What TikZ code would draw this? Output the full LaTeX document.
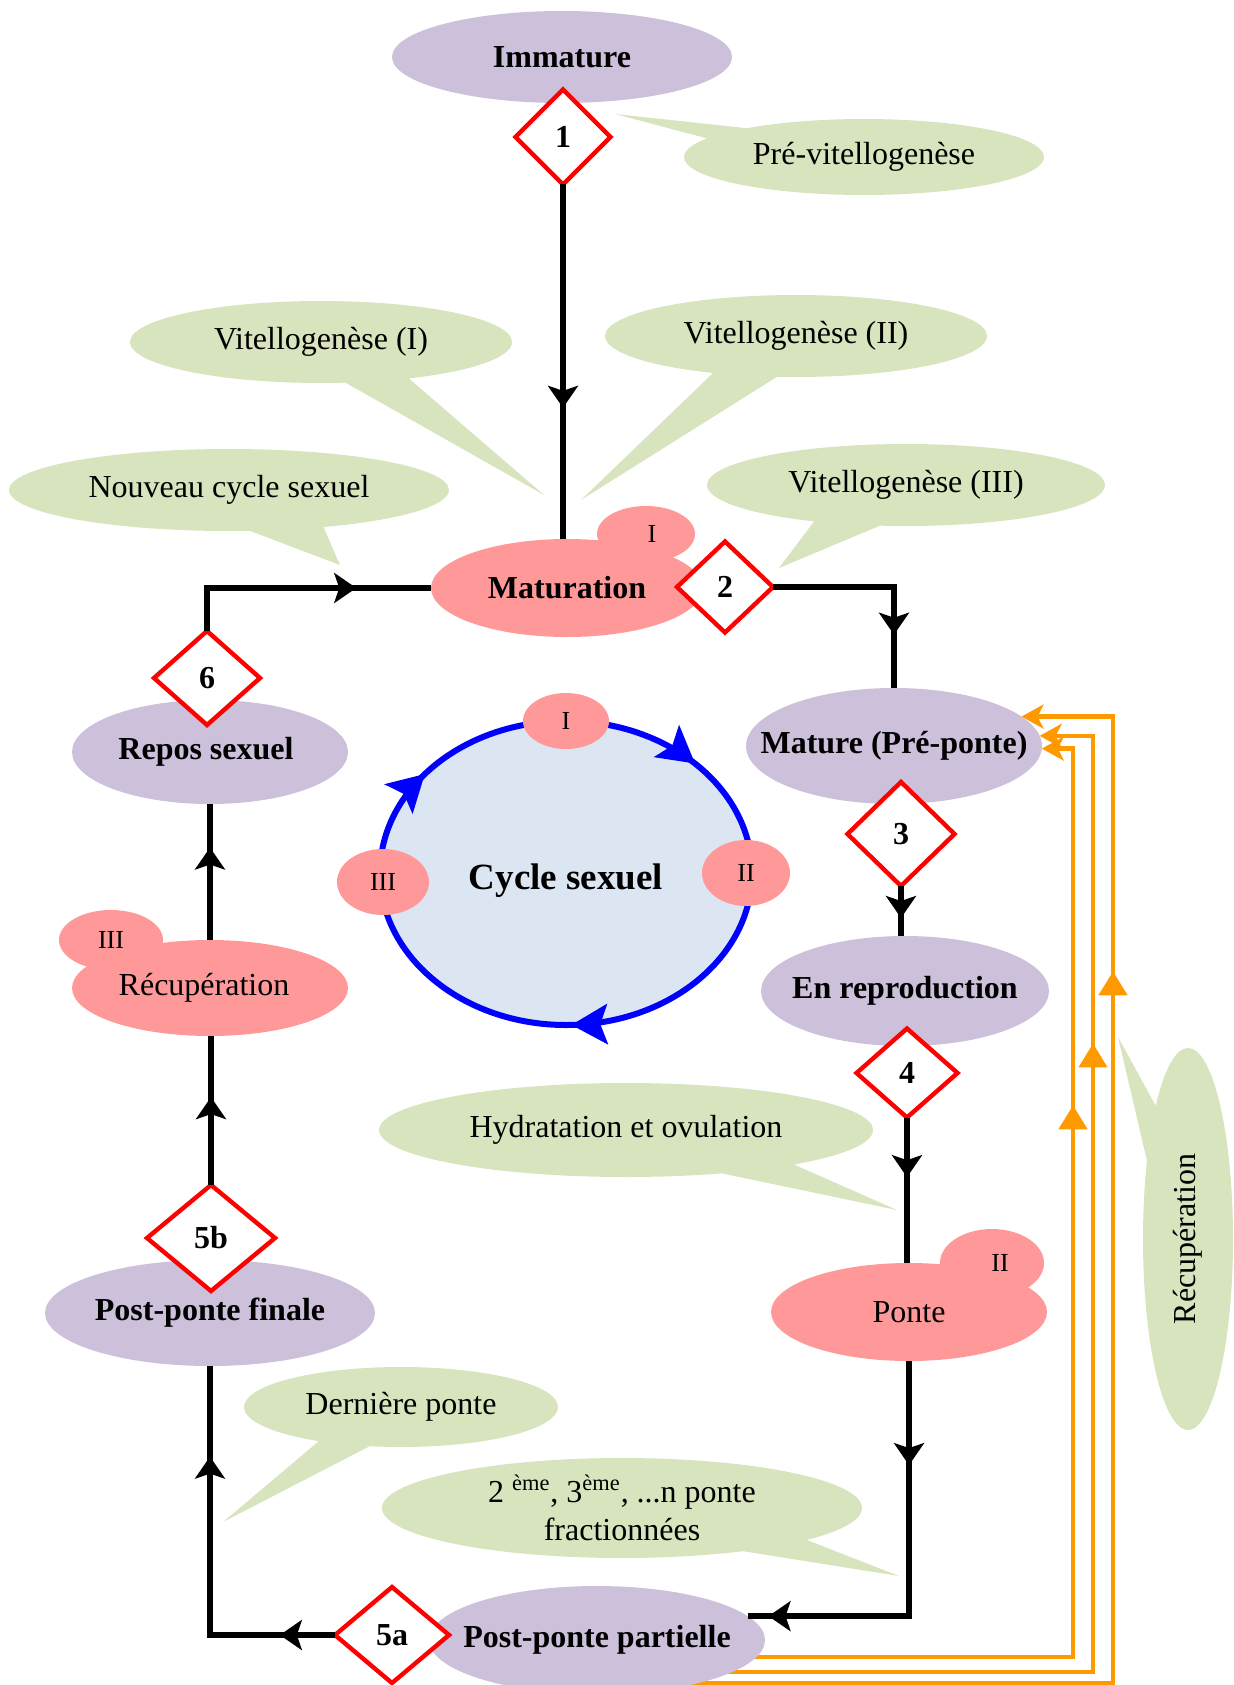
\documentclass[tikz,border=0pt]{standalone}
\usepackage{fontspec}
\setmainfont{Liberation Serif}
\usepackage{graphicx}
\usepackage{tikz}
\usetikzlibrary{arrows.meta,shapes.geometric,shapes.callouts,decorations.markings,backgrounds}

\definecolor{lavande}{HTML}{CCC0DA}
\definecolor{rose}{HTML}{FF9999}
\definecolor{vertpale}{HTML}{D7E4BD}
\definecolor{bleupale}{HTML}{DCE6F2}
\definecolor{orangevif}{HTML}{FF9900}

% texte sans largeur, pour garder la taille de l'ellipse
\newcommand{\etiq}[1]{\makebox[0pt]{#1}}

\begin{document}
\begin{tikzpicture}[x=0.5pt, y=-0.5pt,
    etat/.style={ellipse, fill=lavande, inner sep=0pt, outer sep=0pt, font=\fontsize{16}{19}\selectfont\bfseries},
    phase/.style={ellipse, fill=rose, inner sep=0pt, outer sep=0pt, font=\fontsize{16}{19}\selectfont},
    bulle/.style={ellipse, fill=rose, inner sep=0pt, outer sep=0pt, font=\fontsize{13}{15}\selectfont},
    etape/.style={diamond, draw=red, line width=2.2pt, fill=white, inner sep=0pt, outer sep=0pt, font=\fontsize{16}{19}\selectfont\bfseries},
    note/.style={ellipse callout, fill=vertpale, inner sep=0pt, outer sep=0pt, callout pointer arc=20, align=center, font=\fontsize{16}{19}\selectfont},
    fleche/.style={black, line width=2.8pt},
    pointe/.style={postaction={decorate, decoration={markings, mark=at position #1 with {\arrow{Stealth[length=11pt,width=15pt,inset=2.5pt]}}}}},
    retour/.style={orangevif, line width=2.3pt, -{Stealth[length=11pt,width=12pt,inset=3pt]}},
    pointeor/.style={postaction={decorate, decoration={markings, mark=at position #1 with {\arrow{Triangle[length=12pt,width=14pt]}}}}},
    tour/.style={blue, line width=3pt},
    pointebl/.style={postaction={decorate, decoration={markings, mark=at position #1 with {\arrow{Stealth[length=18pt,width=20pt,inset=3.5pt]}}}}}
]
\useasboundingbox (0,0) rectangle (1233,1685);

% bulles de commentaire
\node[note, minimum width=180pt, minimum height=38pt, callout absolute pointer={(615,114)}] (cpre) at (864,157) {Pré-vitellogenèse};
\node[note, minimum width=191pt, minimum height=41pt, callout absolute pointer={(544,495)}] (cv1) at (321,342) {Vitellogenèse (I)};
\node[note, minimum width=191pt, minimum height=41pt, callout absolute pointer={(581,500)}] (cv2) at (796,336) {Vitellogenèse (II)};
\node[note, minimum width=220pt, minimum height=41pt, callout absolute pointer={(340,565)}] (cnouv) at (229,490) {Nouveau cycle sexuel};
\node[note, minimum width=199pt, minimum height=41pt, callout absolute pointer={(779,568)}] (cv3) at (906,485) {Vitellogenèse (III)};
\node[note, minimum width=247pt, minimum height=47pt, callout absolute pointer={(897,1210)}] (chyd) at (626,1130) {Hydratation et ovulation};
\node[note, minimum width=157pt, minimum height=40pt, callout absolute pointer={(223,1522)}] (cder) at (401,1407) {Dernière ponte};
\node[note, minimum width=240pt, minimum height=50pt, callout absolute pointer={(899,1576)}] (cfrac) at (622,1508) {2 \textsuperscript{ème}, 3\textsuperscript{ème}, ...n ponte\\fractionnées};
\node[note, minimum width=45pt, minimum height=191pt, callout absolute pointer={(1118,1037)}] (crec) at (1188,1239) {\rotatebox{90}{Récupération}};

% etats
\node[etat, minimum width=170pt, minimum height=46pt] (imm) at (562,57) {\etiq{Immature}};
\node[phase, minimum width=136pt, minimum height=49pt, font=\fontsize{16}{19}\selectfont\bfseries] (mat) at (567,588) {\etiq{Maturation}};
\node[bulle, minimum width=49pt, minimum height=28pt] (bI) at (646,534) {\hspace{6pt}I};
\node[etat, minimum width=148pt, minimum height=58pt] (mature) at (894,746) {\etiq{Mature (Pré-ponte)}};
\node[etat, minimum width=144pt, minimum height=55pt] (enrep) at (905,991) {\etiq{En reproduction}};
\node[phase, minimum width=138pt, minimum height=49pt] (ponte) at (909,1312) {\etiq{Ponte}};
\node[bulle, minimum width=52pt, minimum height=34pt] (bII) at (992,1263) {\hspace{8pt}II};
\node[etat, minimum width=168pt, minimum height=54pt] (ppp) at (597,1640) {\etiq{Post-ponte partielle}};
\node[etat, minimum width=165pt, minimum height=53pt] (ppf) at (210,1313) {\etiq{Post-ponte finale}};
\node[phase, minimum width=138pt, minimum height=48pt] (recup) at (210,988) {\etiq{\hspace{-6pt}Récupération}};
\node[bulle, minimum width=52pt, minimum height=30pt] (bIII) at (111,940) {III};
\node[etat, minimum width=138pt, minimum height=52pt] (repos) at (210,752) {\etiq{\hspace{-4pt}Repos sexuel}};

% etapes
\node[etape, minimum width=47.5pt, minimum height=47.5pt] (d1) at (563,137) {1};
\node[etape, minimum width=48pt, minimum height=45.5pt] (d2) at (725,587) {2};
\node[etape, minimum width=53.5pt, minimum height=52pt] (d3) at (901,834) {3};
\node[etape, minimum width=50.5pt, minimum height=44.5pt] (d4) at (907,1073) {4};
\node[etape, minimum width=57pt, minimum height=48pt] (d5a) at (392,1635) {5a};
\node[etape, minimum width=64pt, minimum height=53pt] (d5b) at (211,1238) {5b};
\node[etape, minimum width=53pt, minimum height=47pt] (d6) at (207,678) {6};

% cycle sexuel
\node[ellipse, fill=bleupale, inner sep=0pt, outer sep=0pt, minimum width=186pt, minimum height=152pt, text height=16.5pt, text depth=0pt, font=\fontsize{18.5}{22}\selectfont\bfseries] (cyc) at (566,873) {Cycle sexuel};
\draw[tour, pointebl=0.52] (cyc.north) arc[start angle=90, end angle=0, x radius=93pt, y radius=76pt];
\draw[tour, pointebl=0.49] (cyc.east) arc[start angle=0, end angle=-180, x radius=93pt, y radius=76pt];
\draw[tour, pointebl=0.42] (cyc.west) arc[start angle=180, end angle=90, x radius=93pt, y radius=76pt];
\node[bulle, minimum width=43pt, minimum height=28pt] (cI) at (cyc.north) {I};
\node[bulle, minimum width=44pt, minimum height=33pt] (cII) at ([xshift=-3pt]cyc.east) {II};
\node[bulle, minimum width=46pt, minimum height=33pt] (cIII) at ([xshift=1.5pt,yshift=-4.5pt]cyc.west) {III};

% liens
\draw[fleche, pointe=0.63] (d1.south) -- (d1.south |- mat.north);
\draw[fleche, pointe=0.76] (d2.east) -| (mature.north);
\draw[fleche, pointe=0.64] (d3.south) -- (d3.south |- enrep.north);
\draw[fleche, pointe=0.41] (d4.south) -- (d4.south |- ponte.north);
\draw[fleche, pointe=0.25, pointe=0.95] (ponte.south) |- (ppp.9);
\draw[fleche, pointe=0.14, pointe=0.77] (d5a.west) -| (ppf.south);
\draw[fleche, pointe=0.59] (d5b.north) -- (d5b.north |- recup.south);
\draw[fleche, pointe=0.68] (recup.north) -- (repos.south);
\draw[fleche, pointe=0.72] (d6.north) |- (mat.west);

% retours vers mature
\begin{scope}[on background layer]
\draw[retour, pointeor=0.78] (ppp.center |- 0,1683) -| (1113,0 |- mature.13) -- (mature.13);
\draw[retour, pointeor=0.757] (ppp.center |- 0,1672) -| (1093,0 |- mature.4.7) -- (mature.4.7);
\draw[retour, pointeor=0.726] (ppp.center |- 0,1657) -| (1073,0 |- mature.-1.6) -- (mature.-1.6);
\end{scope}
\end{tikzpicture}
\end{document}
